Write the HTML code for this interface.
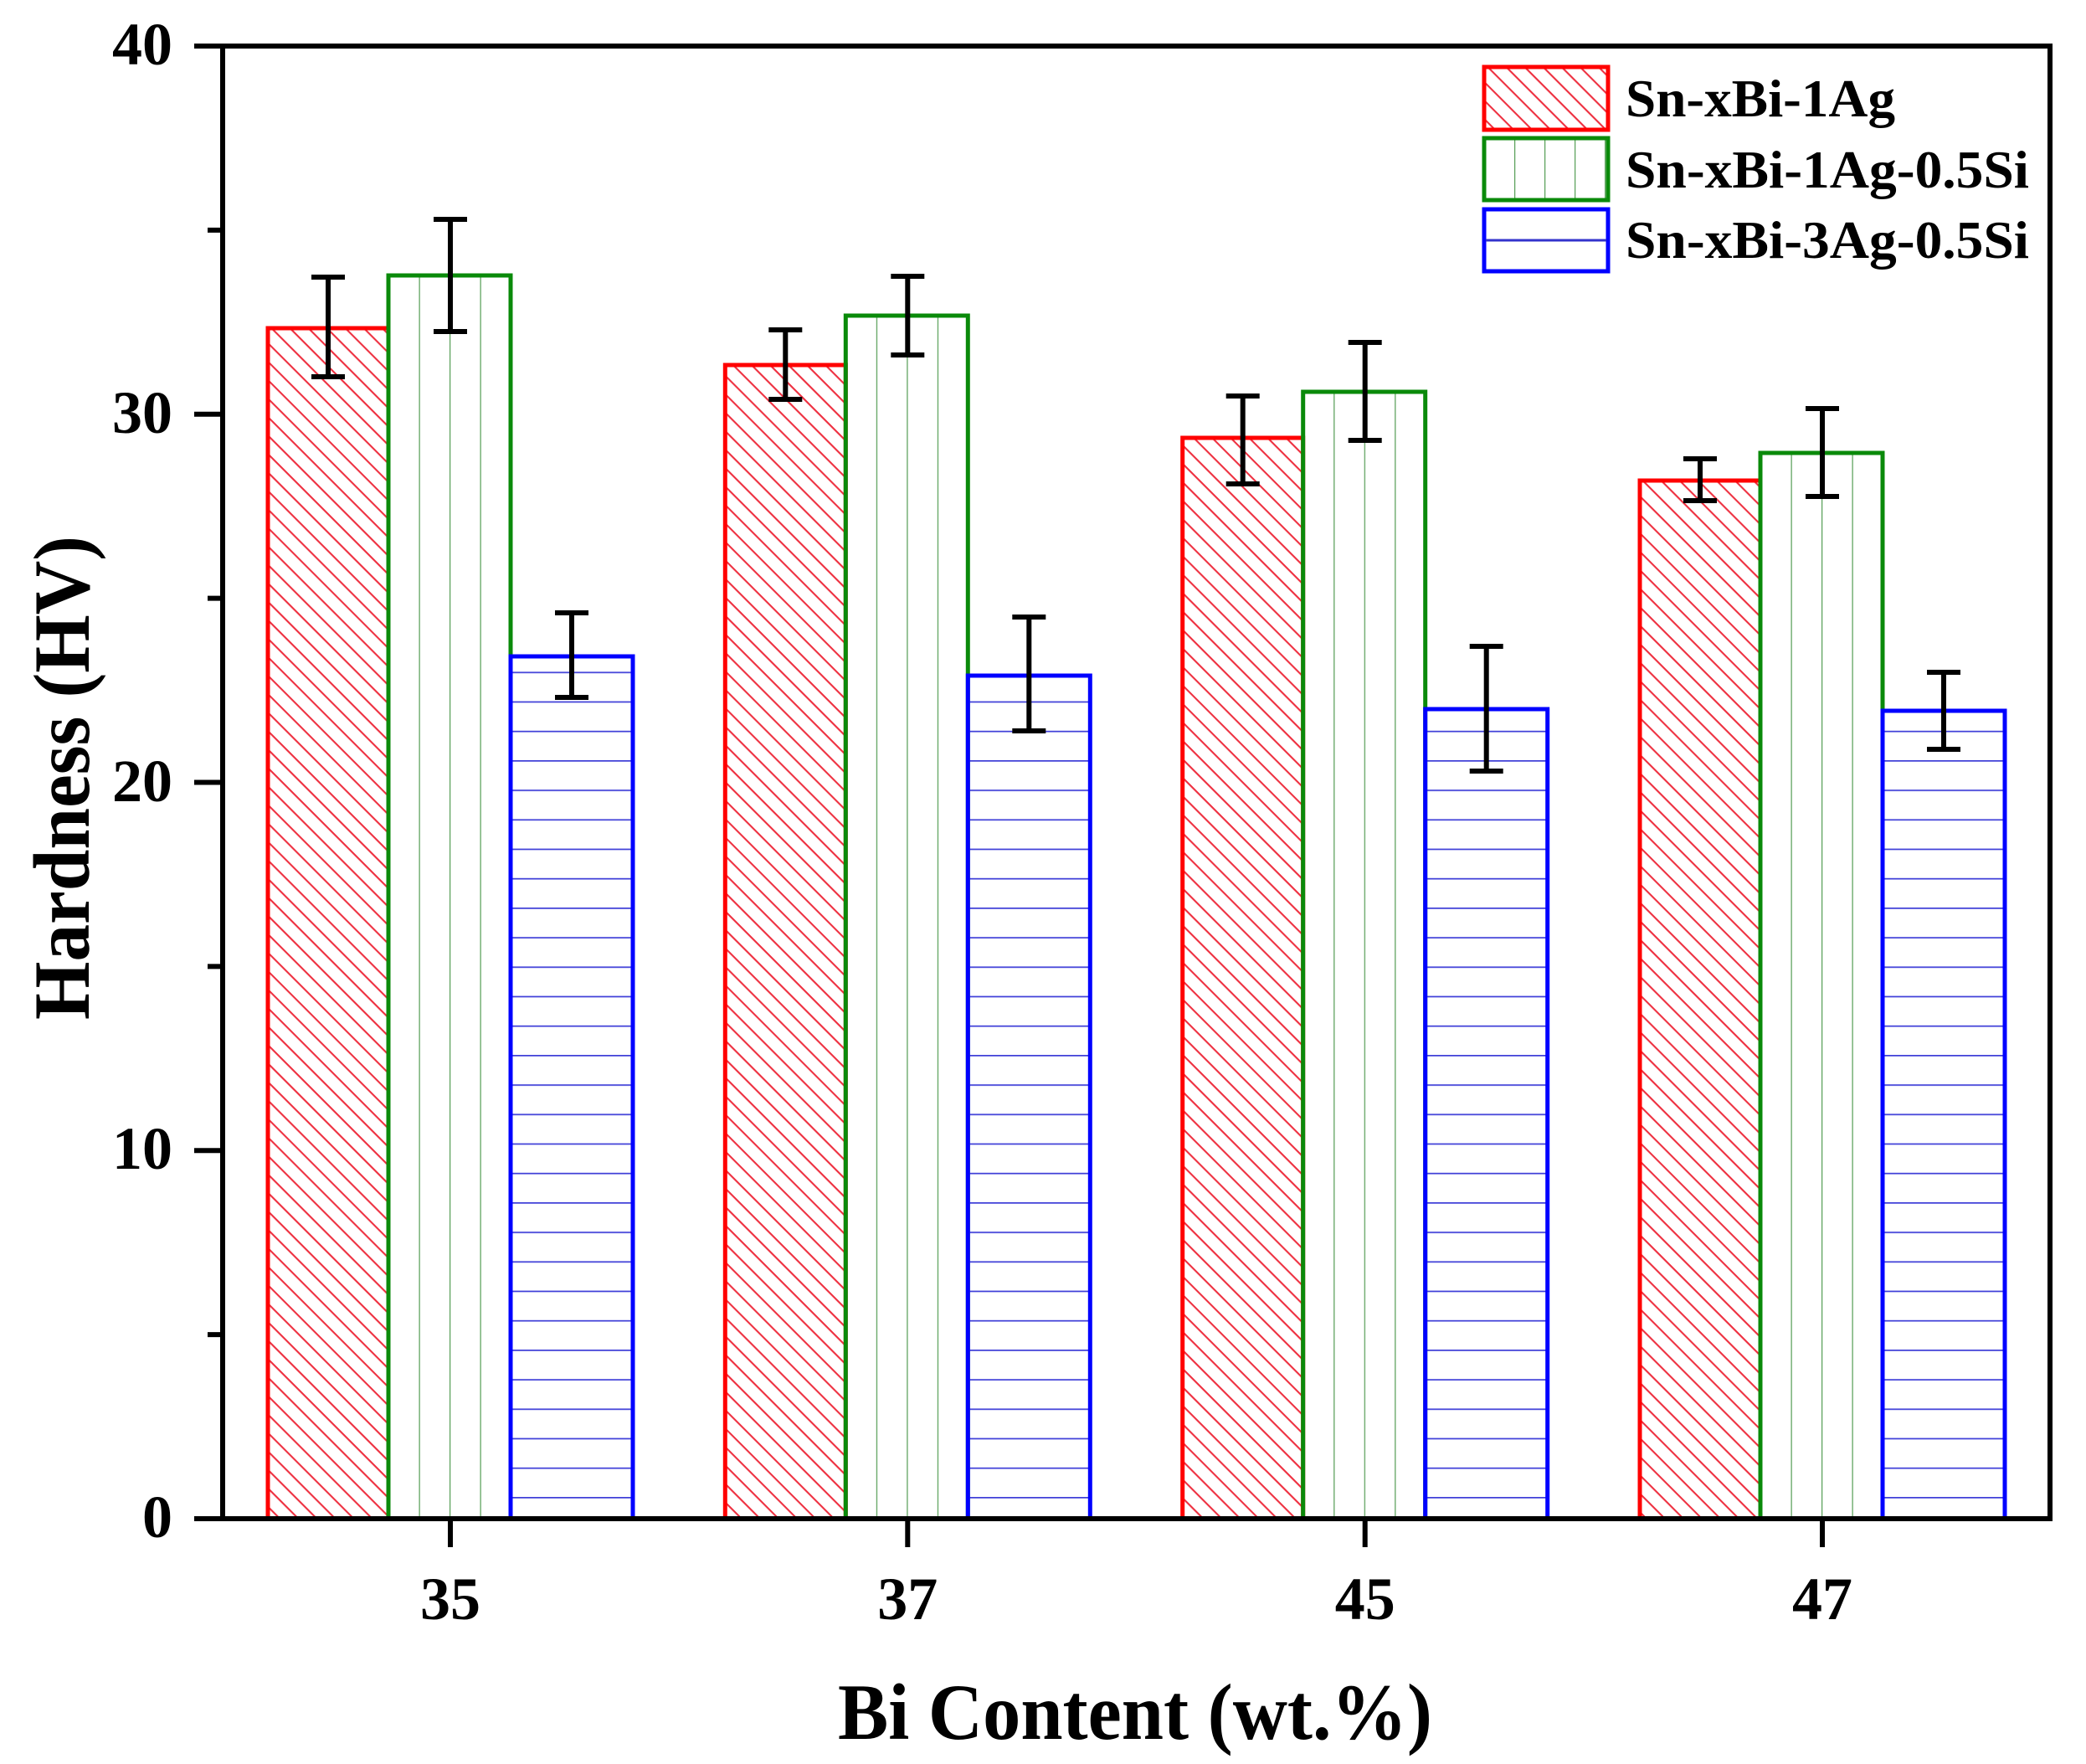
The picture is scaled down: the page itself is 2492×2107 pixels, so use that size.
<!DOCTYPE html>
<html><head><meta charset="utf-8"><style>html,body{margin:0;padding:0;background:#fff}svg{display:block}</style></head>
<body>
<svg width="2492" height="2107" viewBox="0 0 2492 2107" xmlns="http://www.w3.org/2000/svg" font-family="'Liberation Serif', serif" font-weight="bold">
<defs>
<pattern id="hr" patternUnits="userSpaceOnUse" width="12" height="15.6" patternTransform="rotate(45)">
<line x1="0" y1="1" x2="12" y2="1" stroke="#ee3040" stroke-width="2.2"/>
</pattern>
<pattern id="hb" patternUnits="userSpaceOnUse" x="0" y="1788" width="20" height="35.2">
<line x1="0" y1="0" x2="20" y2="0" stroke="#4040d8" stroke-width="3.5"/>
</pattern>
<pattern id="g1" patternUnits="userSpaceOnUse" x="464" y="0" width="36.5" height="20"><line x1="0" y1="0" x2="0" y2="20" stroke="#5aa05a" stroke-width="2.5"/></pattern>
<pattern id="g2" patternUnits="userSpaceOnUse" x="1010.3" y="0" width="36.5" height="20"><line x1="0" y1="0" x2="0" y2="20" stroke="#5aa05a" stroke-width="2.5"/></pattern>
<pattern id="g3" patternUnits="userSpaceOnUse" x="1556.7" y="0" width="36.5" height="20"><line x1="0" y1="0" x2="0" y2="20" stroke="#5aa05a" stroke-width="2.5"/></pattern>
<pattern id="g4" patternUnits="userSpaceOnUse" x="2103" y="0" width="36.5" height="20"><line x1="0" y1="0" x2="0" y2="20" stroke="#5aa05a" stroke-width="2.5"/></pattern>
<pattern id="gl" patternUnits="userSpaceOnUse" x="1773" y="0" width="36" height="20"><line x1="0" y1="0" x2="0" y2="20" stroke="#5aa05a" stroke-width="2.5"/></pattern>
</defs>

<g stroke-width="5">
<rect x="320" y="392" width="144" height="1422" fill="url(#hr)" stroke="#ff0000"/>
<rect x="464" y="329" width="146" height="1485" fill="url(#g1)" stroke="#0a8a0a"/>
<rect x="610" y="784" width="146" height="1030" fill="url(#hb)" stroke="#0000ff"/>
<rect x="866.3" y="436" width="144" height="1378" fill="url(#hr)" stroke="#ff0000"/>
<rect x="1010.3" y="377" width="146" height="1437" fill="url(#g2)" stroke="#0a8a0a"/>
<rect x="1156.3" y="807" width="146" height="1007" fill="url(#hb)" stroke="#0000ff"/>
<rect x="1412.7" y="523" width="144" height="1291" fill="url(#hr)" stroke="#ff0000"/>
<rect x="1556.7" y="468" width="146" height="1346" fill="url(#g3)" stroke="#0a8a0a"/>
<rect x="1702.7" y="847" width="146" height="967" fill="url(#hb)" stroke="#0000ff"/>
<rect x="1959" y="574" width="144" height="1240" fill="url(#hr)" stroke="#ff0000"/>
<rect x="2103" y="541" width="146" height="1273" fill="url(#g4)" stroke="#0a8a0a"/>
<rect x="2249" y="849" width="146" height="965" fill="url(#hb)" stroke="#0000ff"/>
</g>

<g stroke="#000" stroke-width="6" fill="none">
<path d="M392 331V450M372 331H412M372 450H412"/>
<path d="M538 262V396M518 262H558M518 396H558"/>
<path d="M683 732V833M663 732H703M663 833H703"/>
<path d="M938.3 394V477M918.3 394H958.3M918.3 477H958.3"/>
<path d="M1084.3 330V424M1064.3 330H1104.3M1064.3 424H1104.3"/>
<path d="M1229.3 737V873M1209.3 737H1249.3M1209.3 873H1249.3"/>
<path d="M1484.7 473V578M1464.7 473H1504.7M1464.7 578H1504.7"/>
<path d="M1630.7 409V526M1610.7 409H1650.7M1610.7 526H1650.7"/>
<path d="M1775.7 772V921M1755.7 772H1795.7M1755.7 921H1795.7"/>
<path d="M2031 548V598M2011 548H2051M2011 598H2051"/>
<path d="M2177 488V593M2157 488H2197M2157 593H2197"/>
<path d="M2322 803V895M2302 803H2342M2302 895H2342"/>
</g>

<g stroke="#000" stroke-width="6" fill="none">
<rect x="266" y="55" width="2183" height="1759"/>
<path d="M232 1814H266M232 1374.25H266M232 934.5H266M232 494.75H266M232 55H266"/>
<path d="M248 1594.1H266M248 1154.4H266M248 714.6H266M248 274.9H266"/>
<path d="M538 1814V1848M1084.3 1814V1848M1630.7 1814V1848M2177 1814V1848"/>
</g>

<g font-size="72" text-anchor="end" fill="#000">
<text x="206" y="1836">0</text>
<text x="206" y="1396">10</text>
<text x="206" y="957">20</text>
<text x="206" y="517">30</text>
<text x="206" y="77">40</text>
</g>
<g font-size="72" text-anchor="middle" fill="#000">
<text x="538" y="1934">35</text>
<text x="1084.3" y="1934">37</text>
<text x="1630.7" y="1934">45</text>
<text x="2177" y="1934">47</text>
</g>

<text x="1001" y="2077" font-size="95" textLength="710" lengthAdjust="spacingAndGlyphs">Bi Content (wt.%)</text>
<text transform="translate(106,1218) rotate(-90)" font-size="95" textLength="578" lengthAdjust="spacingAndGlyphs">Hardness (HV)</text>

<g stroke-width="5">
<rect x="1773" y="80" width="148" height="75" fill="url(#hr)" stroke="#ff0000"/>
<rect x="1773" y="165" width="148" height="74" fill="url(#gl)" stroke="#0a8a0a"/>
<rect x="1773" y="250" width="148" height="74" fill="#fff" stroke="#0000ff"/>
<line x1="1775" y1="287" x2="1919" y2="287" stroke="#3333cc" stroke-width="3"/>
</g>
<g font-size="64" fill="#000">
<text x="1942" y="139" textLength="322" lengthAdjust="spacingAndGlyphs">Sn-xBi-1Ag</text>
<text x="1942" y="224" textLength="482" lengthAdjust="spacingAndGlyphs">Sn-xBi-1Ag-0.5Si</text>
<text x="1942" y="308" textLength="482" lengthAdjust="spacingAndGlyphs">Sn-xBi-3Ag-0.5Si</text>
</g>
</svg>
</body></html>
